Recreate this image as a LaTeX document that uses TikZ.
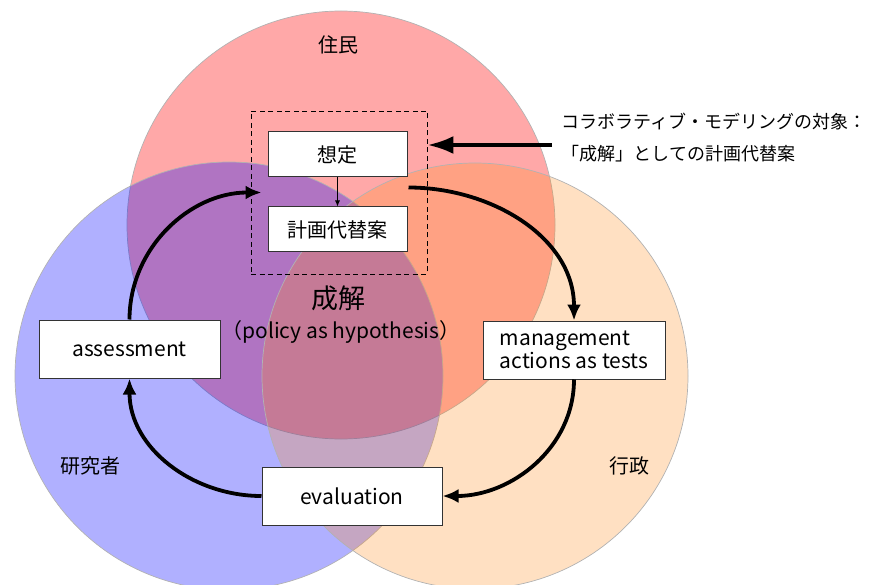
\documentclass[tikz,border=0pt]{standalone}
\usepackage{fontspec}
\setmainfont{Noto Sans CJK JP}
\usetikzlibrary{arrows.meta}
\usetikzlibrary{calc}
\definecolor{ringorange}{RGB}{255,140,30}

\begin{document}
\begin{tikzpicture}[x=1pt, y=1pt,
    ring/.style={draw=gray!60, line width=0.7pt},
    box/.style={draw=black!80, fill=white, line width=1pt, inner sep=0pt},
    cyc/.style={line width=3.8pt, -{Latex[length=16pt,width=14pt]}},
    jp/.style={font=\fontsize{20}{24}\selectfont},
    en/.style={font=\fontsize{21}{23}\selectfont}]
      \useasboundingbox (0,0) rectangle (875,-585);

      % three actors
      \path[ring, fill=red, fill opacity=0.34] (341,-225) circle (214);
      \path[ring, fill=blue, fill opacity=0.31] (229,-376) circle (214);
      \path[ring, fill=ringorange, fill opacity=0.27] (475,-376) circle (213);

      \node[jp] (jumin) at (338,-45) {住民};
      \node[jp] (kenkyu) at (90,-466) {研究者};
      \node[jp] (gyosei) at (629,-466) {行政};

      \node[font=\fontsize{27}{30}\selectfont] (seikai) at (338,-298) {成解};
      \node[en] (policy) at (341,-332) {（policy as hypothesis）};

      % object of collaborative modelling
      \node[box, jp, minimum width=139, minimum height=45] (sotei) at (337.5,-154.5) {想定};
      \node[box, jp, minimum width=139, minimum height=45] (keikaku) at (337.5,-229.5) {計画代替案};
      \node[draw, dash pattern=on 5pt off 3.5pt, line width=0.8pt, minimum width=176, minimum height=163] (group) at (339,-192.5) {};
      \draw[line width=0.8pt, -{Latex[length=6pt,width=5pt]}] (sotei) -- (keikaku);

      \node[font=\fontsize{18}{32}\selectfont, align=left, anchor=west] (note) at (558,-138)
        {コラボラティブ・モデリングの対象：\\「成解」としての計画代替案};
      \coordinate (tail) at (552,-145);
      \draw[line width=4pt, -{Latex[length=26pt,width=18pt]}] (tail) -- (tail -| group.east);

      % adaptive cycle
      \node[box, en, minimum width=181, minimum height=58] (assess) at (129.5,-349) {assessment};
      \node[box, en, minimum width=182, minimum height=58, align=left] (mgmt) at (574,-350) {management\\actions as tests};
      \node[box, en, minimum width=180, minimum height=58] (evalu) at (352,-496) {evaluation};

      \draw[cyc] ($(sotei.south east)+(1,-10)$) to[out=0, in=90] (mgmt.north);
      \draw[cyc] (mgmt.south) to[out=-90, in=0] (evalu.east);
      \draw[cyc] (evalu.west) to[out=180, in=-90] (assess.south);
      \draw[cyc] (assess.north) to[out=90, in=180] ($(sotei.south west)+(-6,-15)$);
    \end{tikzpicture}
\end{document}
